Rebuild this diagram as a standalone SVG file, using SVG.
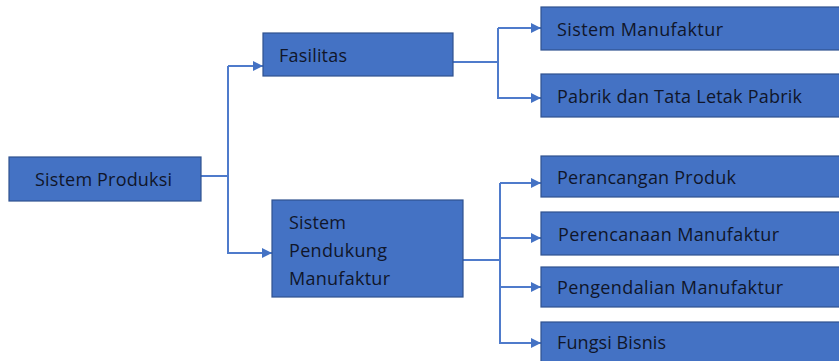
<svg xmlns="http://www.w3.org/2000/svg" width="839" height="361" viewBox="0 0 839 361">
<defs>
<marker id="arr" viewBox="0 0 10 10" refX="10" refY="5" markerWidth="5" markerHeight="5" markerUnits="strokeWidth" orient="auto">
<path d="M0,0 L10,5 L0,10 z" fill="#4472C4"/>
</marker>
<style>
.box{fill:#4472C4;stroke:#2F528F;stroke-width:1.2}
.t{font-family:"Open Sans","Noto Sans",sans-serif;font-size:18px;fill:#10162a}
.c{fill:none;stroke:#4F7BCB;stroke-width:2}
</style>
</defs>
<rect width="839" height="361" fill="#ffffff"/>
<g id="connectors">
<path class="c" d="M201,176 H228 V66"/>
<path class="c" d="M228,66 H263" marker-end="url(#arr)"/>
<path class="c" d="M228,176 V253 H272" marker-end="url(#arr)"/>
<path class="c" d="M453,62 H498 V28"/>
<path class="c" d="M498,28 H541" marker-end="url(#arr)"/>
<path class="c" d="M498,62 V98 H541" marker-end="url(#arr)"/>
<path class="c" d="M463,260 H500 V183"/>
<path class="c" d="M500,183 H541" marker-end="url(#arr)"/>
<path class="c" d="M500,238 H541" marker-end="url(#arr)"/>
<path class="c" d="M500,287 H541" marker-end="url(#arr)"/>
<path class="c" d="M500,260 V343 H541" marker-end="url(#arr)"/>
</g>
<g id="sistem-produksi">
<rect class="box" x="9" y="157" width="192" height="44"/>
<text class="t" x="35" y="186" textLength="137" lengthAdjust="spacing">Sistem Produksi</text>
</g>
<g id="fasilitas">
<rect class="box" x="263" y="33" width="190" height="43"/>
<text class="t" x="279" y="62" textLength="68" lengthAdjust="spacing">Fasilitas</text>
</g>
<g id="sistem-pendukung-manufaktur">
<rect class="box" x="272" y="200" width="191" height="97"/>
<text class="t" x="289" y="229" textLength="57" lengthAdjust="spacing">Sistem</text>
<text class="t" x="289" y="257" textLength="98" lengthAdjust="spacing">Pendukung</text>
<text class="t" x="289" y="285" textLength="101" lengthAdjust="spacing">Manufaktur</text>
</g>
<g id="sistem-manufaktur">
<rect class="box" x="541" y="7" width="305" height="43"/>
<text class="t" x="557" y="35.5" textLength="166" lengthAdjust="spacing">Sistem Manufaktur</text>
</g>
<g id="pabrik">
<rect class="box" x="541" y="74" width="305" height="43"/>
<text class="t" x="557" y="102.5" textLength="245" lengthAdjust="spacing">Pabrik dan Tata Letak Pabrik</text>
</g>
<g id="perancangan-produk">
<rect class="box" x="541" y="156" width="305" height="41"/>
<text class="t" x="557" y="184.3" textLength="179" lengthAdjust="spacing">Perancangan Produk</text>
</g>
<g id="perencanaan-manufaktur">
<rect class="box" x="541" y="212" width="305" height="43"/>
<text class="t" x="558" y="240.7" textLength="221" lengthAdjust="spacing">Perencanaan Manufaktur</text>
</g>
<g id="pengendalian-manufaktur">
<rect class="box" x="541" y="267" width="305" height="40"/>
<text class="t" x="557" y="294" textLength="226" lengthAdjust="spacing">Pengendalian Manufaktur</text>
</g>
<g id="fungsi-bisnis">
<rect class="box" x="541" y="322" width="305" height="50"/>
<text class="t" x="557" y="349.3" textLength="109" lengthAdjust="spacing">Fungsi Bisnis</text>
</g>
</svg>
